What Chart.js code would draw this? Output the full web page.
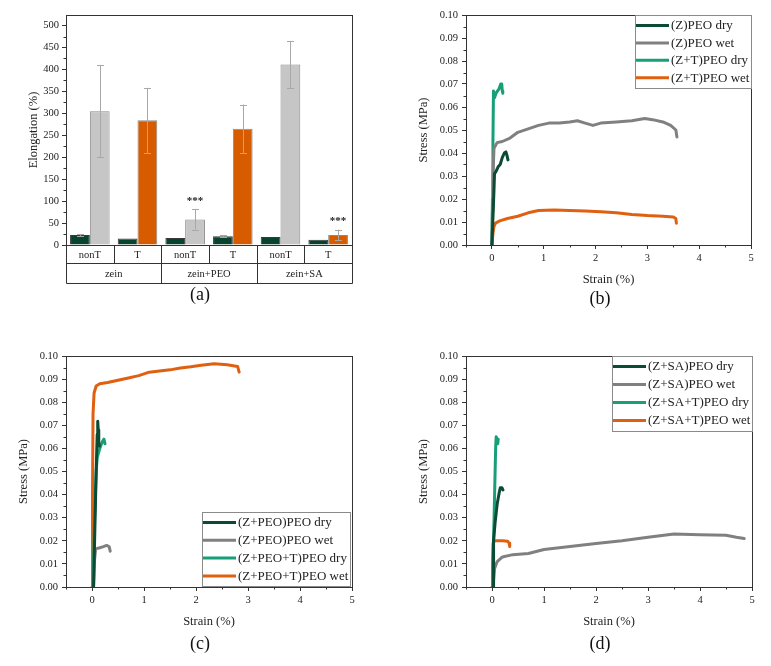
<!DOCTYPE html>
<html><head><meta charset="utf-8">
<script src="https://cdn.jsdelivr.net/npm/chart.js@4.4.1/dist/chart.umd.min.js"></script>
<style>
body{margin:0;background:#fff;width:771px;height:666px;position:relative;overflow:hidden;}
canvas{position:absolute;}
.lbl{position:absolute;font:18px "Liberation Serif",serif;color:#111;transform:translate(-50%,-50%);white-space:nowrap;}
</style></head><body>
<canvas id="ca" width="390" height="310" style="left:0;top:0"></canvas>
<canvas id="cb" width="381" height="310" style="left:390px;top:0"></canvas>
<canvas id="cc" width="390" height="310" style="left:0;top:330px"></canvas>
<canvas id="cd" width="381" height="310" style="left:390px;top:330px"></canvas>
<div class="lbl" style="left:200px;top:294px">(a)</div>
<div class="lbl" style="left:600px;top:298px">(b)</div>
<div class="lbl" style="left:200px;top:643px">(c)</div>
<div class="lbl" style="left:600px;top:643px">(d)</div>
<script>
// ---------- data: panel (a) ----------
const barCategories = ['nonT','T','nonT','T','nonT','T'];
const barGroups = ['zein','zein+PEO','zein+SA'];
const dryElong = [23,15,16,20,18,12];
const dryErr = [2,0,0,2,0,0];
const wetElong = [305,284,58,265,411,23];
const wetErr = [105,74,23,55,54,12];
const wetSignif = ['','','***','','','***'];
const elongTicks = [0,50,100,150,200,250,300,350,400,450,500];

// ---------- data: panel (b) ----------
const bLabels = ['(Z)PEO dry','(Z)PEO wet','(Z+T)PEO dry','(Z+T)PEO wet'];
const bZdry = [[0,0],[0.02,0.012],[0.04,0.024],[0.05,0.031],[0.08,0.032],[0.12,0.034],[0.16,0.035],[0.2,0.038],[0.24,0.040],[0.27,0.0405],[0.29,0.039],[0.31,0.037]];
const bZwet = [[0,0],[0.01,0.015],[0.02,0.03],[0.04,0.042],[0.1,0.0445],[0.2,0.045],[0.35,0.0465],[0.5,0.049],[0.7,0.0505],[0.9,0.052],[1.1,0.053],[1.3,0.053],[1.5,0.0535],[1.65,0.054],[1.8,0.053],[1.95,0.052],[2.1,0.053],[2.4,0.0535],[2.7,0.054],[2.95,0.055],[3.1,0.0545],[3.3,0.0535],[3.45,0.052],[3.55,0.050],[3.57,0.047]];
const bZTdry = [[0,0],[0.01,0.02],[0.02,0.045],[0.03,0.067],[0.05,0.064],[0.08,0.066],[0.11,0.067],[0.14,0.068],[0.17,0.070],[0.19,0.070],[0.2,0.067],[0.21,0.066]];
const bZTwet = [[0,0],[0.02,0.005],[0.04,0.008],[0.07,0.0095],[0.15,0.0105],[0.3,0.0115],[0.5,0.0125],[0.7,0.014],[0.9,0.015],[1.2,0.0152],[1.5,0.015],[1.8,0.0148],[2.1,0.0145],[2.4,0.014],[2.7,0.0133],[3.0,0.0128],[3.3,0.0125],[3.5,0.0122],[3.55,0.0115],[3.56,0.0095]];

// ---------- data: panel (c) ----------
const cLabels = ['(Z+PEO)PEO dry','(Z+PEO)PEO wet','(Z+PEO+T)PEO dry','(Z+PEO+T)PEO wet'];
const cZdry = [[0.03,0],[0.05,0.02],[0.07,0.04],[0.09,0.058],[0.1,0.066],[0.11,0.0718],[0.12,0.068],[0.13,0.063],[0.14,0.061]];
const cZwet = [[0.03,0],[0.05,0.012],[0.07,0.0165],[0.15,0.017],[0.22,0.0175],[0.28,0.018],[0.33,0.0175],[0.35,0.0155]];
const cZTdry = [[0.02,0],[0.05,0.03],[0.08,0.05],[0.1,0.056],[0.15,0.060],[0.2,0.063],[0.23,0.064],[0.25,0.062]];
const cZTwet = [[0,0],[0.01,0.04],[0.02,0.075],[0.04,0.084],[0.08,0.087],[0.15,0.088],[0.3,0.0885],[0.5,0.0895],[0.7,0.0905],[0.9,0.0915],[1.1,0.093],[1.3,0.0935],[1.5,0.094],[1.7,0.0948],[1.9,0.0953],[2.1,0.096],[2.35,0.0966],[2.6,0.0962],[2.8,0.0955],[2.83,0.093]];

// ---------- data: panel (d) ----------
const dLabels = ['(Z+SA)PEO dry','(Z+SA)PEO wet','(Z+SA+T)PEO dry','(Z+SA+T)PEO wet'];
const dZdry = [[0.02,0],[0.03,0.02],[0.06,0.028],[0.1,0.036],[0.14,0.041],[0.16,0.043],[0.19,0.043],[0.21,0.042]];
const dZwet = [[0.02,0],[0.05,0.008],[0.1,0.011],[0.2,0.013],[0.4,0.014],[0.7,0.0145],[1.0,0.0162],[1.5,0.0175],[2.0,0.0188],[2.5,0.020],[3.0,0.0215],[3.5,0.0229],[4.0,0.0226],[4.5,0.0224],[4.7,0.0215],[4.85,0.021]];
const dZTdry = [[0.01,0],[0.03,0.02],[0.05,0.04],[0.07,0.06],[0.08,0.065],[0.1,0.064],[0.11,0.062],[0.12,0.064]];
const dZTwet = [[0,0],[0.01,0.01],[0.02,0.019],[0.05,0.020],[0.1,0.020],[0.2,0.020],[0.3,0.0198],[0.33,0.019],[0.34,0.0175]];

const stressTicks = [0,0.01,0.02,0.03,0.04,0.05,0.06,0.07,0.08,0.09,0.10];
const strainTicks = [0,1,2,3,4,5];

const COL = {dry:'#0b4a33', wet:'#808080', tdry:'#17a078', twet:'#de6010', barDry:'#07432d', barGray:'#c6c6c6', barOrange:'#d75c00'};
const FONT = '"Liberation Serif", serif';
const INK = '#222';

// ---------- plugins ----------
const framePlugin = {
  id:'frame',
  afterDatasetsDraw(chart){
    const {ctx, chartArea:a} = chart;
    ctx.save();
    ctx.strokeStyle = '#333'; ctx.lineWidth = 1;
    ctx.strokeRect(Math.round(a.left)+0.5, Math.round(a.top)+0.5, Math.round(a.right-a.left), Math.round(a.bottom-a.top));
    for (const id of Object.keys(chart.scales)){
      const s = chart.scales[id];
      if (s.type !== 'linear') continue;
      const t = s.ticks.map(k=>k.value);
      if (t.length < 2) continue;
      const step = t[1]-t[0];
      ctx.beginPath();
      for (let i=-1;i<t.length;i++){
        const v = t[0] + (i+0.5)*step;
        if (v < s.min - 1e-9 || v > s.max + 1e-9) continue;
        const p = Math.round(s.getPixelForValue(v))+0.5;
        if (s.isHorizontal()){ ctx.moveTo(p, a.bottom); ctx.lineTo(p, a.bottom+2.5); }
        else { ctx.moveTo(a.left, p); ctx.lineTo(a.left-2.5, p); }
      }
      ctx.stroke();
    }
    ctx.restore();
  }
};

const tablePlugin = {
  id:'catTable',
  afterDraw(chart){
    const {ctx, chartArea:a, scales} = chart;
    const x = scales.x, x2 = scales.x2;
    if (!x2) return;
    ctx.save();
    ctx.strokeStyle = '#333'; ctx.lineWidth = 1;
    const L = Math.round(a.left)+0.5, R = Math.round(a.right)+0.5;
    const y0 = Math.round(a.bottom)+0.5, y1 = Math.round(x.bottom)+0.5, y2 = Math.round(x2.bottom)+0.5;
    ctx.beginPath();
    ctx.moveTo(L,y1); ctx.lineTo(R,y1);
    ctx.moveTo(L,y2); ctx.lineTo(R,y2);
    ctx.moveTo(L,y0); ctx.lineTo(L,y2);
    ctx.moveTo(R,y0); ctx.lineTo(R,y2);
    const n = barCategories.length, w = (a.right-a.left)/n;
    for (let i=1;i<n;i++){
      const p = Math.round(a.left + i*w)+0.5;
      ctx.moveTo(p,y0); ctx.lineTo(p, i%2===0 ? y2 : y1);
    }
    ctx.stroke();
    ctx.fillStyle = INK; ctx.font = '10.5px ' + FONT;
    ctx.textAlign = 'center'; ctx.textBaseline = 'middle';
    barCategories.forEach((c,i)=>{ ctx.fillText(c, x.getPixelForValue(i), (y0+y1)/2 + 0.5); });
    const gw = (a.right-a.left)/barGroups.length;
    barGroups.forEach((g,i)=>{ ctx.fillText(g, a.left + (i+0.5)*gw, (y1+y2)/2 + 0.5); });
    ctx.restore();
  }
};

const errPlugin = {
  id:'errBars',
  afterDatasetsDraw(chart){
    const {ctx, scales:{y}} = chart;
    ctx.save();
    const sets = [[0,dryElong,dryErr,null],[1,wetElong,wetErr,wetSignif]];
    for (const [d, vals, errs, sig] of sets){
      const meta = chart.getDatasetMeta(d);
      meta.data.forEach((bar,i)=>{
        const e = errs[i];
        const cx = Math.round(bar.x)+0.5;
        const top = y.getPixelForValue(vals[i]+e), bot = y.getPixelForValue(vals[i]-e);
        if (e>0){
          ctx.strokeStyle = '#a8a8a8'; ctx.lineWidth = 1;
          ctx.beginPath();
          ctx.moveTo(cx, top); ctx.lineTo(cx, bot);
          ctx.moveTo(cx-3.5, Math.round(top)+0.5); ctx.lineTo(cx+3.5, Math.round(top)+0.5);
          ctx.moveTo(cx-3.5, Math.round(bot)+0.5); ctx.lineTo(cx+3.5, Math.round(bot)+0.5);
          ctx.stroke();
        }
        if (sig && sig[i]){
          ctx.fillStyle = INK; ctx.font = 'bold 11px ' + FONT;
          ctx.textAlign = 'center'; ctx.textBaseline = 'middle';
          ctx.fillText(sig[i], bar.x, top - 8);
        }
      });
    }
    ctx.restore();
  }
};

const boxLegend = {
  id:'boxLegend',
  afterDraw(chart, args, opts){
    if (!opts || !opts.corner) return;
    const {ctx, chartArea:a} = chart;
    const ds = chart.data.datasets;
    ctx.save();
    ctx.font = '13px ' + FONT;
    const tw = Math.max(...ds.map(d=>ctx.measureText(d.label).width));
    const lineLen = 33, gap = 2, rowH = opts.rowH || 17.4;
    const w = Math.round(lineLen + gap + tw + 3), h = Math.round(rowH*ds.length + 3);
    const right = Math.round(a.right) - (opts.inset||0);
    const left = right - w;
    const top = opts.corner === 'tr' ? Math.round(a.top) : Math.round(a.bottom) - h - 1;
    ctx.fillStyle = '#fff'; ctx.fillRect(left, top, w, h);
    ctx.strokeStyle = '#8a8a8a'; ctx.lineWidth = 1;
    ctx.strokeRect(left+0.5, top+0.5, w, h);
    ds.forEach((d,i)=>{
      const cy = top + 10.5 + i*rowH;
      ctx.strokeStyle = d.borderColor; ctx.lineWidth = 3;
      ctx.beginPath(); ctx.moveTo(left+1, cy); ctx.lineTo(left+1+lineLen, cy); ctx.stroke();
      ctx.fillStyle = INK; ctx.textAlign = 'left'; ctx.textBaseline = 'middle';
      ctx.fillText(d.label, left+1+lineLen+gap, cy+0.5);
    });
    ctx.restore();
  }
};

// ---------- panel (a) ----------
new Chart(document.getElementById('ca'), {
  type:'bar',
  data:{
    labels: barCategories,
    datasets:[
      {label:'dry', data: dryElong, backgroundColor: COL.barDry, borderColor:'#3a3a3a', borderWidth:1},
      {label:'wet', data: wetElong, backgroundColor: barCategories.map(c=>c==='T'?COL.barOrange:COL.barGray), borderColor:'#8a8a8a', borderWidth:1}
    ]
  },
  options:{
    responsive:false, animation:false, devicePixelRatio:1,
    layout:{padding:{left:0, right:38, top:15, bottom:27}},
    datasets:{bar:{categoryPercentage:0.83, barPercentage:1.0}},
    plugins:{legend:{display:false}, tooltip:{enabled:false}},
    scales:{
      x:{type:'category', offset:true, weight:0,
         grid:{display:false}, border:{display:false},
         ticks:{display:false},
         afterFit(s){ s.height = 18; }},
      x2:{type:'category', labels: barGroups, position:'bottom', offset:true, weight:1,
         grid:{display:false}, border:{display:false},
         ticks:{display:false},
         afterFit(s){ s.height = 20; }},
      y:{min:0, max:524,
         afterBuildTicks(s){ s.ticks = elongTicks.map(v=>({value:v})); },
         ticks:{font:{family:FONT, size:10.5}, color:INK, padding:3},
         grid:{display:true, drawOnChartArea:false, drawTicks:true, tickLength:4, color:'#333'},
         border:{display:false},
         title:{display:true, text:'Elongation (%)', font:{family:FONT, size:12.5}, color:INK, padding:{top:26, bottom:0}},
         afterFit(s){ s.width = 66; }}
    }
  },
  plugins:[framePlugin, errPlugin, tablePlugin]
});

// ---------- stress-strain panels ----------
function pts(arr){ return arr.map(p=>({x:p[0], y:p[1]})); }
function curveChart(id, labels, curves, pad, yTitlePad, axisW, legendOpts){
  const colors = [COL.dry, COL.wet, COL.tdry, COL.twet];
  return new Chart(document.getElementById(id), {
    type:'line',
    data:{datasets: curves.map((c,i)=>({label:labels[i], data:pts(c), borderColor:colors[i], backgroundColor:colors[i], borderWidth:3, borderJoinStyle:'round', borderCapStyle:'round', pointRadius:0, tension:0, fill:false}))},
    options:{
      responsive:false, animation:false, devicePixelRatio:1,
      layout:{padding:pad},
      plugins:{legend:{display:false}, tooltip:{enabled:false}, boxLegend:legendOpts},
      scales:{
        x:{type:'linear', min:-0.5, max:5,
           afterBuildTicks(s){ s.ticks = strainTicks.map(v=>({value:v})); },
           ticks:{font:{family:FONT, size:10.5}, color:INK, padding:3, callback:v=>String(v)},
           grid:{display:true, drawOnChartArea:false, drawTicks:true, tickLength:4, color:'#333'},
           border:{display:false},
           title:{display:true, text:'Strain (%)', font:{family:FONT, size:12.5}, color:INK, padding:{top:0, bottom:0}},
           afterFit(s){ s.height = 42; }},
        y:{type:'linear', min:0, max:0.10,
           afterBuildTicks(s){ s.ticks = stressTicks.map(v=>({value:v})); },
           ticks:{font:{family:FONT, size:10.5}, color:INK, padding:4, callback:v=>Number(v).toFixed(2)},
           grid:{display:true, drawOnChartArea:false, drawTicks:true, tickLength:4, color:'#333'},
           border:{display:false},
           title:{display:true, text:'Stress (MPa)', font:{family:FONT, size:12.5}, color:INK, padding:{top:yTitlePad, bottom:0}},
           afterFit(s){ s.width = axisW; }}
      }
    },
    plugins:[framePlugin, boxLegend]
  });
}

curveChart('cb', bLabels, [bZdry,bZwet,bZTdry,bZTwet], {left:0,right:20,top:15,bottom:23}, 26, 76, {corner:'tr', rowH:17.4});
curveChart('cc', cLabels, [cZdry,cZwet,cZTdry,cZTwet], {left:0,right:38,top:26,bottom:11}, 16, 66, {corner:'br', rowH:17.8, inset:2});
curveChart('cd', dLabels, [dZdry,dZwet,dZTdry,dZTwet], {left:0,right:19,top:26,bottom:11}, 26, 76, {corner:'tr', rowH:18});
</script>
</body></html>
